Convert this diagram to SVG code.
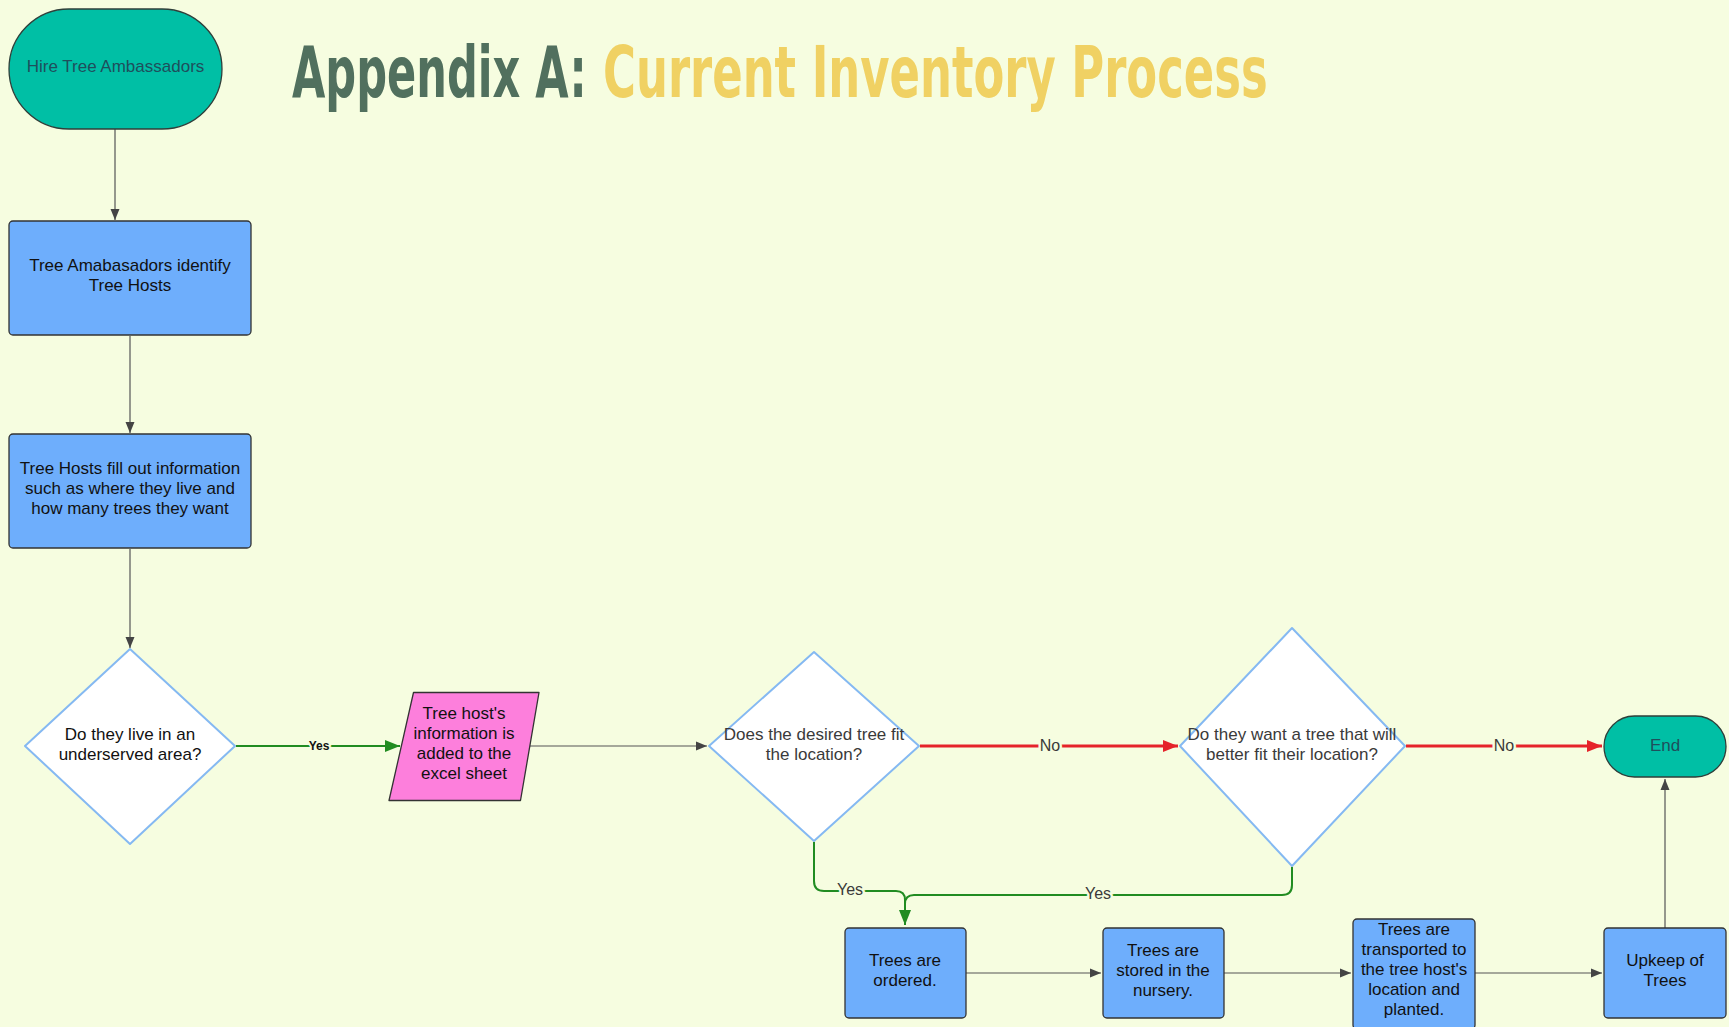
<svg xmlns="http://www.w3.org/2000/svg" width="1729" height="1027" viewBox="0 0 1729 1027">
<defs>
<style>
.t{font-family:"Liberation Sans",Arial,sans-serif;font-size:17px;text-anchor:middle;fill:#111}
.tq{font-family:"Liberation Sans",Arial,sans-serif;font-size:17px;text-anchor:middle;fill:#3a3a3a}
.tt{font-family:"Liberation Sans",Arial,sans-serif;font-size:17px;text-anchor:middle;fill:#1f4f5c}
.box{fill:#6eaefc;stroke:#333;stroke-width:1.3}
.term{fill:#00bfa5;stroke:#2f3f3a;stroke-width:1.3}
.dia{fill:#fff;stroke:#85b9f2;stroke-width:2;stroke-linejoin:round}
.gray{fill:none;stroke:#555;stroke-width:1.2}
.green{fill:none;stroke:#218c21;stroke-width:2}
.red{fill:none;stroke:#e5232a;stroke-width:3}
.lbl{font-family:"Liberation Sans",Arial,sans-serif;font-size:16px;text-anchor:middle;fill:#3a3a3a;stroke:#f6fde0;stroke-width:5;paint-order:stroke}
.lblb{font-family:"Liberation Sans",Arial,sans-serif;font-size:12px;font-weight:bold;text-anchor:middle;fill:#111;stroke:#f6fde0;stroke-width:4;paint-order:stroke}
.title{font-family:"DejaVu Sans",sans-serif;font-stretch:condensed;font-size:72px;font-weight:bold}
</style>
<marker id="ag" markerUnits="userSpaceOnUse" markerWidth="12" markerHeight="10" refX="11" refY="5" orient="auto"><path d="M0,0.5 L11,5 L0,9.5 Z" fill="#444"/></marker>
<marker id="agr" markerUnits="userSpaceOnUse" markerWidth="16" markerHeight="12" refX="15" refY="6" orient="auto"><path d="M0,0 L15,6 L0,12 Z" fill="#218c21"/></marker>
<marker id="ar" markerUnits="userSpaceOnUse" markerWidth="16" markerHeight="12" refX="15" refY="6" orient="auto"><path d="M0,0 L15,6 L0,12 Z" fill="#e5232a"/></marker>
</defs>
<rect width="1729" height="1027" fill="#f6fde0"/>

<g id="title">
<text class="title" transform="translate(292,97) scale(0.67,1)" x="0" y="0" fill="#51705e" textLength="440" lengthAdjust="spacingAndGlyphs">Appendix A:</text>
<text class="title" transform="translate(603,97) scale(0.67,1)" x="0" y="0" fill="#f0d163" textLength="992" lengthAdjust="spacingAndGlyphs">Current Inventory Process</text>
</g>

<g id="connectors">
<path class="gray" d="M115,129 V220" marker-end="url(#ag)"/>
<path class="gray" d="M130,336 V433" marker-end="url(#ag)"/>
<path class="gray" d="M130,549 V648" marker-end="url(#ag)"/>
<path class="green" d="M236,746 H400" marker-end="url(#agr)"/>
<text class="lblb" x="319" y="750">Yes</text>
<path class="gray" d="M530,746 H707" marker-end="url(#ag)"/>
<path class="red" d="M920,746 H1178" marker-end="url(#ar)"/>
<text class="lbl" x="1050" y="751">No</text>
<path class="red" d="M1406,746 H1602" marker-end="url(#ar)"/>
<text class="lbl" x="1504" y="751">No</text>
<path class="green" d="M814,842 V881 Q814,891 824,891 H896 Q905,891 905,900 V925" marker-end="url(#agr)"/>
<text class="lbl" x="850" y="895">Yes</text>
<path class="green" d="M1292,867 V885 Q1292,895 1282,895 H914 Q905,895 905,904 V925"/>
<text class="lbl" x="1098" y="899">Yes</text>
<path class="gray" d="M966,973 H1101" marker-end="url(#ag)"/>
<path class="gray" d="M1224,973 H1351" marker-end="url(#ag)"/>
<path class="gray" d="M1475,973 H1602" marker-end="url(#ag)"/>
<path class="gray" d="M1665,928 V779" marker-end="url(#ag)"/>
</g>

<g id="hire">
<rect class="term" x="9" y="9" width="213" height="120" rx="60" ry="60"/>
<text class="tt" x="115.5" y="72">Hire Tree Ambassadors</text>
</g>

<g id="identify">
<rect class="box" x="9" y="221" width="242" height="114" rx="4"/>
<text class="t" x="130" y="271">Tree Amabasadors identify</text>
<text class="t" x="130" y="291">Tree Hosts</text>
</g>

<g id="fillout">
<rect class="box" x="9" y="434" width="242" height="114" rx="4"/>
<text class="t" x="130" y="474">Tree Hosts fill out information</text>
<text class="t" x="130" y="494">such as where they live and</text>
<text class="t" x="130" y="514">how many trees they want</text>
</g>

<g id="underserved">
<path class="dia" d="M130,649 L235,746 L130,844 L25,746 Z"/>
<text class="t" x="130" y="740">Do they live in an</text>
<text class="t" x="130" y="760">underserved area?</text>
</g>

<g id="excel">
<path d="M413.5,692.5 L539,692.5 L520.5,800.5 L389,800.5 Z" fill="#fd7fdc" stroke="#333" stroke-width="1.3" stroke-linejoin="round"/>
<text class="t" x="464" y="719">Tree host's</text>
<text class="t" x="464" y="739">information is</text>
<text class="t" x="464" y="759">added to the</text>
<text class="t" x="464" y="779">excel sheet</text>
</g>

<g id="fit">
<path class="dia" d="M814,652 L919,746 L814,841 L709,746 Z"/>
<text class="tq" x="814" y="740">Does the desired tree fit</text>
<text class="tq" x="814" y="760">the location?</text>
</g>

<g id="better">
<path class="dia" d="M1292,628 L1405,746 L1292,866 L1180,746 Z"/>
<text class="tq" x="1292" y="740">Do they want a tree that will</text>
<text class="tq" x="1292" y="760">better fit their location?</text>
</g>

<g id="end">
<rect class="term" x="1604" y="716" width="122" height="61" rx="30.5" ry="30.5"/>
<text class="tt" x="1665" y="751">End</text>
</g>

<g id="ordered">
<rect class="box" x="845" y="928" width="121" height="90" rx="4"/>
<text class="t" x="905" y="966">Trees are</text>
<text class="t" x="905" y="986">ordered.</text>
</g>

<g id="stored">
<rect class="box" x="1103" y="928" width="121" height="90" rx="4"/>
<text class="t" x="1163" y="956">Trees are</text>
<text class="t" x="1163" y="976">stored in the</text>
<text class="t" x="1163" y="996">nursery.</text>
</g>

<g id="transported">
<rect class="box" x="1353" y="919" width="122" height="110" rx="4"/>
<text class="t" x="1414" y="935">Trees are</text>
<text class="t" x="1414" y="955">transported to</text>
<text class="t" x="1414" y="975">the tree host's</text>
<text class="t" x="1414" y="995">location and</text>
<text class="t" x="1414" y="1015">planted.</text>
</g>

<g id="upkeep">
<rect class="box" x="1604" y="928" width="122" height="90" rx="4"/>
<text class="t" x="1665" y="966">Upkeep of</text>
<text class="t" x="1665" y="986">Trees</text>
</g>
</svg>
